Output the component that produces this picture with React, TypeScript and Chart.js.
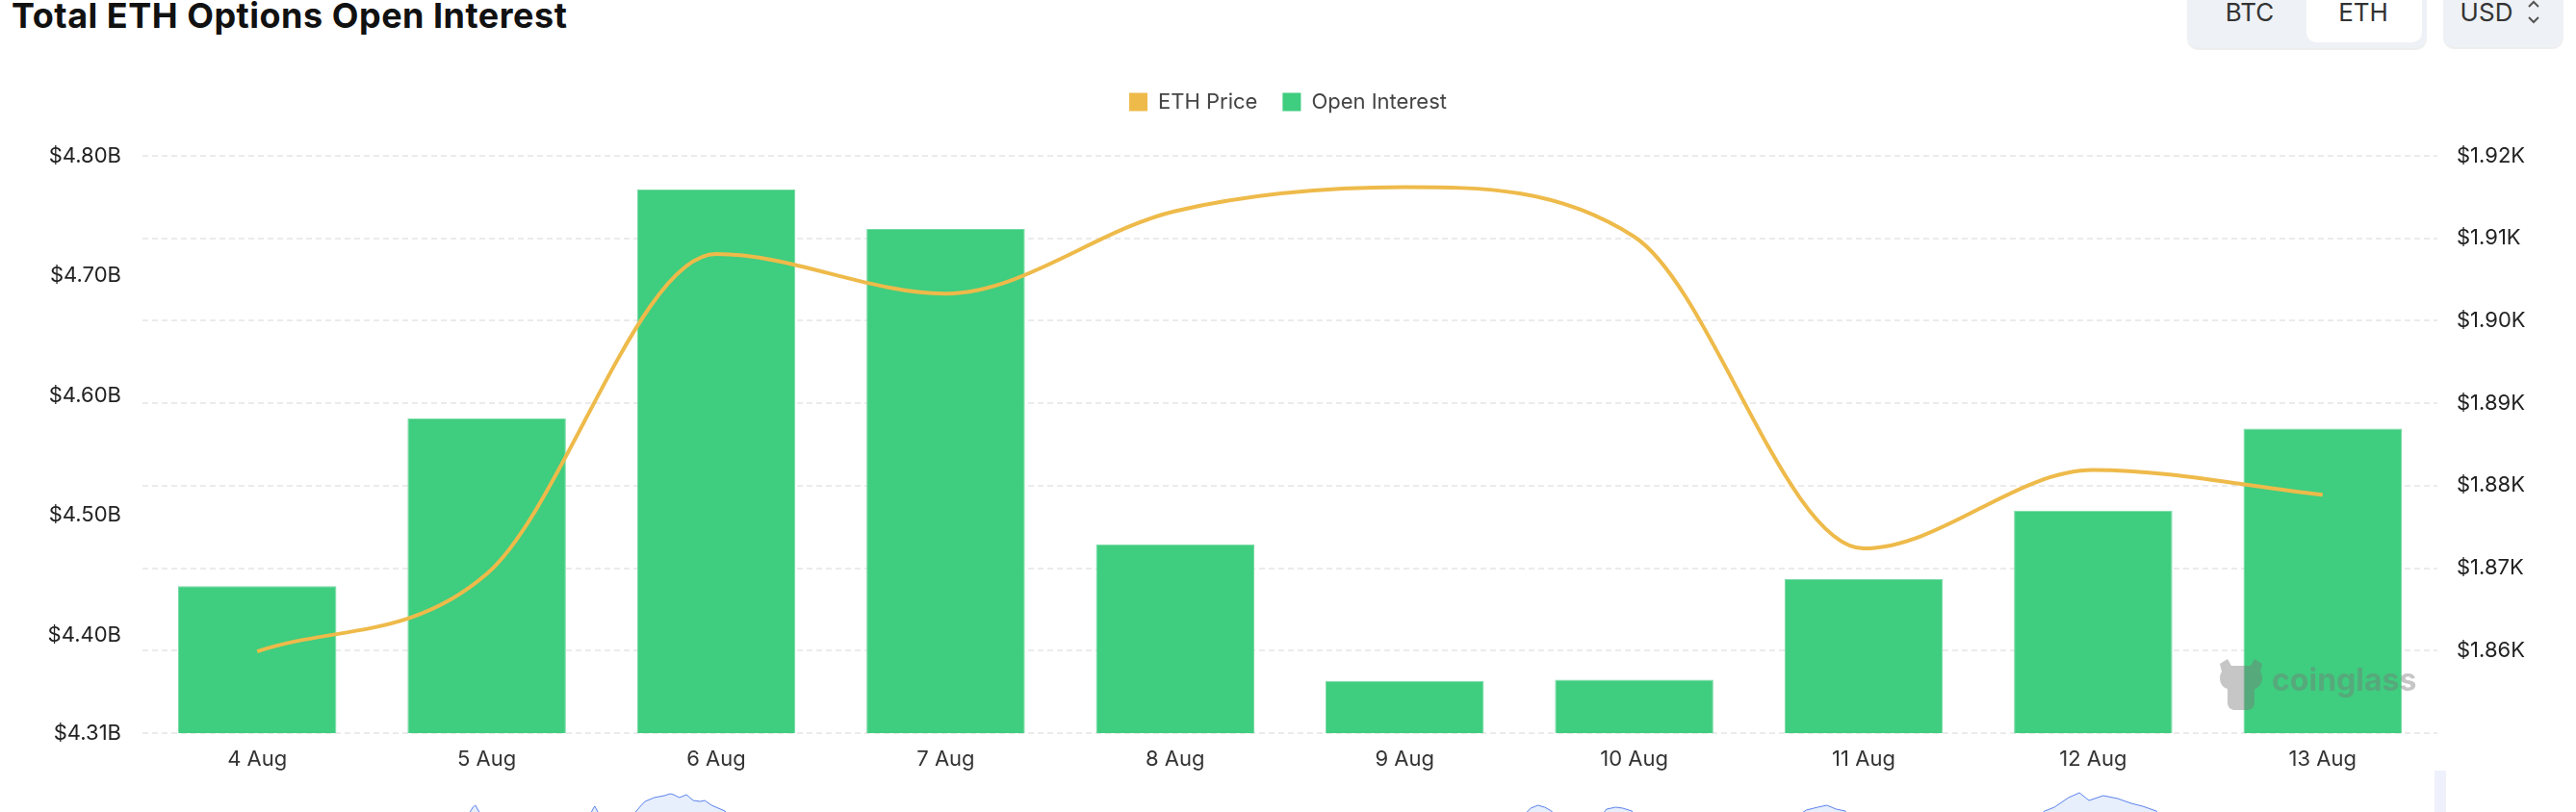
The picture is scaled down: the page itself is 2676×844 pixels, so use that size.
import React, { useEffect, useRef } from 'react';
import { Chart, registerables } from 'chart.js';

Chart.register(...registerables);

// ---- data ----
const categories = ['4 Aug', '5 Aug', '6 Aug', '7 Aug', '8 Aug', '9 Aug', '10 Aug', '11 Aug', '12 Aug', '13 Aug'];
const openInterestB = [4.441, 4.581, 4.772, 4.739, 4.476, 4.362, 4.363, 4.447, 4.504, 4.5725];
const ethPriceUsd = [1859.9, 1869.3, 1908.1, 1903.3, 1913.3, 1916.2, 1910.2, 1872.4, 1881.9, 1878.9];

const leftTickValues = [4.3185, 4.4, 4.5, 4.6, 4.7, 4.8];
const leftTickLabels = ['$4.31B', '$4.40B', '$4.50B', '$4.60B', '$4.70B', '$4.80B'];
const rightTickValues = [1850, 1860, 1870, 1880, 1890, 1900, 1910, 1920];
const rightTickLabels = ['', '$1.86K', '$1.87K', '$1.88K', '$1.89K', '$1.90K', '$1.91K', '$1.92K'];

// navigator sparkline (only the peaks that show above the bottom edge)
const navIdx = [-0.5,
  0.92, 0.94, 0.951, 0.96, 0.975,
  1.45, 1.465, 1.471, 1.48, 1.49,
  1.64, 1.652, 1.67, 1.69, 1.73, 1.774, 1.8, 1.815, 1.84, 1.87, 1.9, 1.93, 1.95, 1.98, 2.038, 2.05,
  5.52, 5.55, 5.58, 5.61, 5.64, 5.65,
  5.86, 5.88, 5.92, 5.95, 5.99, 6.0,
  6.72, 6.75, 6.8, 6.84, 6.88, 6.92, 6.93,
  7.77, 7.789, 7.831, 7.893, 7.94, 7.982, 8.044, 8.107, 8.166, 8.216, 8.275, 8.29,
  9.5];
const navHeight = [-3,
  -3, 5, 7, 3, -3,
  -3, 4, 6, 2, -3,
  -3, 1, 6, 11, 15, 17, 19, 18, 15, 18, 12, 11, 12, 7, 1, -3,
  -3, 4, 7, 5, 1, -3,
  -3, 3, 5, 4, 1, -3,
  -3, 2, 5, 7, 3, 1, -3,
  -3, 1, 5, 15, 20, 12, 17, 14, 9, 6, 1, -3,
  -3];

const W = 2676;
const H = 844;
const FONT = 'Inter, "Noto Sans", sans-serif';

const legendGap = {
  id: 'legendGap',
  beforeLayout(chart: any) {
    const legend = chart.legend;
    if (legend && !legend._gapPatched) {
      const orig = legend.fit;
      legend.fit = function () {
        orig.call(this);
        this.height += 35;
      };
      legend._gapPatched = true;
    }
  },
};

export default function App() {
  const mainRef = useRef<HTMLCanvasElement>(null);
  const navRef = useRef<HTMLCanvasElement>(null);

  useEffect(() => {
    document.body.style.margin = '0';
    const main = new Chart(mainRef.current as HTMLCanvasElement, {
      type: 'bar',
      data: {
        labels: categories,
        datasets: [
          {
            type: 'line',
            label: 'ETH Price',
            data: ethPriceUsd,
            yAxisID: 'y1',
            borderColor: '#EEBA4A',
            backgroundColor: '#EEBA4A',
            borderWidth: 4,
            pointRadius: 0,
            cubicInterpolationMode: 'monotone',
            order: 1,
          } as any,
          {
            type: 'bar',
            label: 'Open Interest',
            data: openInterestB,
            yAxisID: 'y',
            backgroundColor: '#3FCD7F',
            borderColor: '#74DAA2',
            borderWidth: { top: 1, left: 1, right: 1, bottom: 0 },
            borderSkipped: false,
            barPercentage: 0.69,
            categoryPercentage: 1,
            order: 2,
          } as any,
        ],
      },
      options: {
        responsive: false,
        animation: false,
        layout: { padding: { top: 69, left: 0, right: 0, bottom: 27.6 } },
        plugins: {
          tooltip: { enabled: false },
          legend: {
            display: true,
            position: 'top',
            align: 'center',
            labels: {
              boxWidth: 19,
              boxHeight: 19,
              padding: 26,
              color: '#444',
              font: { family: FONT, size: 22 },
              generateLabels: (chart: any) =>
                Chart.defaults.plugins.legend.labels
                  .generateLabels(chart)
                  .map((l: any) => ({ ...l, lineWidth: 0 })),
            },
          },
        },
        scales: {
          x: {
            type: 'category',
            offset: true,
            grid: { display: false, drawTicks: false },
            border: { display: false },
            ticks: { padding: 14, color: '#333', font: { family: FONT, size: 22 } },
          },
          y: {
            type: 'linear',
            position: 'left',
            min: leftTickValues[0],
            max: leftTickValues[leftTickValues.length - 1],
            grid: { display: false, drawTicks: false },
            border: { display: false },
            afterBuildTicks: (scale: any) => {
              scale.ticks = leftTickValues.map((v) => ({ value: v }));
            },
            afterFit: (scale: any) => {
              scale.width = 148;
            },
            ticks: {
              padding: 22,
              color: '#222',
              font: { family: FONT, size: 22 },
              callback: (_v: any, i: number) => leftTickLabels[i],
            },
          },
          y1: {
            type: 'linear',
            position: 'right',
            min: rightTickValues[0],
            max: rightTickValues[rightTickValues.length - 1],
            grid: { display: true, drawTicks: false, color: '#EBEBEB', lineWidth: 2 },
            border: { display: false, dash: [6, 4] },
            afterBuildTicks: (scale: any) => {
              scale.ticks = rightTickValues.map((v) => ({ value: v }));
            },
            afterFit: (scale: any) => {
              scale.width = W - 2532;
            },
            ticks: {
              padding: 20,
              color: '#222',
              font: { family: FONT, size: 22 },
              callback: (_v: any, i: number) => rightTickLabels[i],
            },
          },
        },
      },
      plugins: [legendGap as any],
    });

    const nav = new Chart(navRef.current as HTMLCanvasElement, {
      type: 'line',
      data: {
        datasets: [
          {
            data: navIdx.map((x, i) => ({ x, y: navHeight[i] })),
            borderColor: '#5A82EC',
            backgroundColor: '#E7EEFC',
            borderWidth: 1,
            pointRadius: 0,
            fill: 'start',
            tension: 0,
          },
        ],
      },
      options: {
        responsive: false,
        animation: false,
        layout: { padding: { left: 148, right: W - 2532, top: 0, bottom: 0 } },
        plugins: { legend: { display: false }, tooltip: { enabled: false } },
        scales: {
          x: { type: 'linear', min: -0.5, max: 9.5, display: false },
          y: { type: 'linear', min: 0, max: 44, display: false },
        },
      },
    });

    return () => {
      main.destroy();
      nav.destroy();
    };
  }, []);

  const btnText: React.CSSProperties = {
    position: 'absolute',
    top: 0,
    fontSize: 26,
    lineHeight: '26px',
    color: '#333',
    fontFamily: FONT,
    transform: 'translateX(-50%)',
    whiteSpace: 'nowrap',
  };

  return (
    <div style={{ position: 'relative', width: W, height: H, overflow: 'hidden', background: '#fff', fontFamily: FONT }}>
      <div
        style={{
          position: 'absolute',
          left: 12,
          top: -1,
          fontSize: 36,
          lineHeight: '35px',
          fontWeight: 700,
          color: '#111',
          letterSpacing: 0.5,
          whiteSpace: 'nowrap',
        }}
      >
        Total ETH Options Open Interest
      </div>

      <div style={{ position: 'absolute', left: 2272, top: -20, width: 249, height: 70, background: '#EEF1F5', borderRadius: 12, boxShadow: '0 2px 1px rgba(0,0,0,0.07)' }} />
      <div style={{ position: 'absolute', left: 2396, top: -20, width: 120, height: 64, background: '#fff', borderRadius: 10 }} />
      <div style={{ ...btnText, left: 2337 }}>BTC</div>
      <div style={{ ...btnText, left: 2455 }}>ETH</div>
      <div style={{ position: 'absolute', left: 2538, top: -20, width: 125, height: 69, background: '#EEF1F5', borderRadius: 12, boxShadow: '0 2px 1px rgba(0,0,0,0.07)' }} />
      <div style={{ ...btnText, left: 2583 }}>USD</div>
      <svg style={{ position: 'absolute', left: 2624, top: 0 }} width={16} height={28}>
        <polyline points="3,7 8,2 13,7" fill="none" stroke="#555" strokeWidth={2} />
        <polyline points="3,18 8,23 13,18" fill="none" stroke="#555" strokeWidth={2} />
      </svg>

      <canvas ref={mainRef} width={W} height={H} style={{ position: 'absolute', left: 0, top: 0, width: W, height: H }} />
      <canvas ref={navRef} width={W} height={44} style={{ position: 'absolute', left: 0, top: 800, width: W, height: 44 }} />
      <div style={{ position: 'absolute', left: 2529, top: 801, width: 12, height: 50, background: '#EEF1FB' }} />

      <svg style={{ position: 'absolute', left: 2300, top: 680 }} width={56} height={62}>
        <g fill="#787878" opacity={0.42}>
          <path d="M6,10 L14,5 L18,12 L38,12 L42,5 L50,10 L48,18 C52,24 50,34 42,36 L42,50 C42,56 38,58 34,58 L22,58 C18,58 14,56 14,50 L14,36 C6,34 4,24 8,18 Z" />
        </g>
      </svg>
      <div
        style={{
          position: 'absolute',
          left: 2360,
          top: 691,
          fontSize: 32,
          lineHeight: '32px',
          fontWeight: 700,
          color: 'rgba(120,120,120,0.42)',
          whiteSpace: 'nowrap',
        }}
      >
        coinglass
      </div>
    </div>
  );
}
